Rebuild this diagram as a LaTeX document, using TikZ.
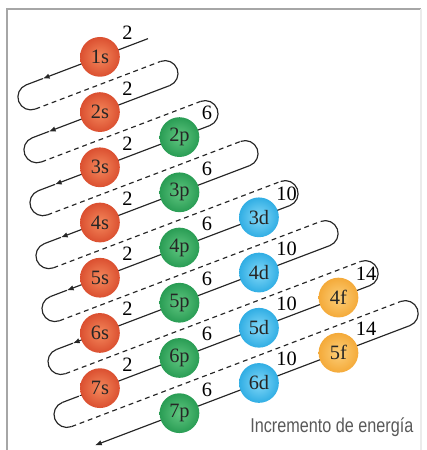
\documentclass[tikz,border=0pt]{standalone}
\usepackage{fontspec}
\setmainfont{Liberation Serif}
\newfontfamily\capfont{Liberation Sans}
\usetikzlibrary{calc,arrows.meta}

\definecolor{sout}{RGB}{212,64,36}
\definecolor{sin}{RGB}{244,136,92}
\definecolor{srim}{RGB}{184,48,28}
\definecolor{pout}{RGB}{26,145,72}
\definecolor{pin}{RGB}{96,198,128}
\definecolor{prim}{RGB}{18,118,58}
\definecolor{dout}{RGB}{26,162,222}
\definecolor{din}{RGB}{130,216,248}
\definecolor{drim}{RGB}{18,136,192}
\definecolor{fout}{RGB}{242,160,40}
\definecolor{fin}{RGB}{252,206,120}
\definecolor{frim}{RGB}{222,136,26}

% gradient from a light core to a darker rim
\pgfdeclareradialshading{sball}{\pgfpoint{0bp}{0bp}}{color(0bp)=(sin);color(32bp)=(sout);color(50bp)=(srim)}
\pgfdeclareradialshading{pball}{\pgfpoint{0bp}{0bp}}{color(0bp)=(pin);color(32bp)=(pout);color(50bp)=(prim)}
\pgfdeclareradialshading{dball}{\pgfpoint{0bp}{0bp}}{color(0bp)=(din);color(32bp)=(dout);color(50bp)=(drim)}
\pgfdeclareradialshading{fball}{\pgfpoint{0bp}{0bp}}{color(0bp)=(fin);color(32bp)=(fout);color(50bp)=(frim)}

\tikzset{
  orb/.style={circle,minimum size=0.72cm,inner sep=0pt,text=black!85,
    font=\fontsize{10.5}{12}\selectfont},
  sorb/.style={orb,shading=sball},
  porb/.style={orb,shading=pball},
  dorb/.style={orb,shading=dball},
  forb/.style={orb,shading=fball},
  num/.style={inner sep=0pt,font=\fontsize{10.5}{12}\selectfont},
  run/.style={black!85,line width=0.6pt},
  back/.style={run,dash pattern=on 2.5pt off 2pt},
  tip/.style={-{Latex[length=3.5pt,width=2.8pt]}}
}

\begin{document}
\begin{tikzpicture}
\useasboundingbox (-1.81,-7.12) rectangle (5.91,1.03);

% frame
\draw[black!35,line width=1.1pt] (-1.69,-7.12) -- (-1.69,0.86) -- (5.82,0.86);
\draw[black!8,line width=1pt] (5.82,0.86) -- (5.82,-7.12);

% end points of the solid runs (slope 0.38)
\coordinate (R1) at (0.87,0.33);
\foreach \k in {2,...,8}{
  \pgfmathsetmacro\xr{1.263+0.725*(\k-2)}
  \coordinate (R\k) at (\xr,{-(\k-1)+0.38*\xr});
}
\foreach \k in {1,...,7}{
  \pgfmathsetmacro\xl{-1.335+0.109*(\k-1)}
  \coordinate (L\k) at (\xl,{-(\k-1)+0.38*\xl});
  \coordinate (A\k) at (\xl+0.3,{-(\k-1)+0.38*(\xl+0.3)});
}
\coordinate (A8) at (-0.09,{-7-0.38*0.09});

% turns
\foreach \k in {2,...,8}
  \draw[run] (R\k) arc[start angle=-69.2,end angle=110.8,radius=0.234] coordinate (T\k);
\foreach \k in {1,...,7}
  \draw[run] (L\k) arc[start angle=110.8,end angle=290.8,radius=0.234] coordinate (B\k);

% solid runs down to the left
\foreach \k in {1,...,7}{
  \draw[run,tip] (R\k) -- (A\k);
  \draw[run] (A\k) -- (L\k);
}
\draw[run,tip] (R8) -- (A8);

% dashed runs back up
\foreach \k [evaluate=\k as \j using int(\k+1)] in {1,...,7}
  \draw[back] (B\k) -- (T\j);

% orbitals and their capacities
\foreach \l/\sub/\first/\last in {0/s/1/7,1/p/2/7,2/d/3/6,3/f/4/5}{
  \pgfmathtruncatemacro\cap{4*\l+2}
  \foreach \n in {\first,...,\last}{
    \node[\sub orb] (\n\sub) at ({1.44*\l},{-(\n+\l-1)+0.547*\l}) {\n\sub};
    \node[num] (c\n\sub) at ($(\n\sub)+(0.5,0.43)$) {\cap};
  }
}

\node[font=\capfont\fontsize{10.3}{12}\selectfont,text=black!65,xscale=0.81,transform shape]
  (inc) at (4.2,-6.7) {Incremento de energía};

\end{tikzpicture}
\end{document}
